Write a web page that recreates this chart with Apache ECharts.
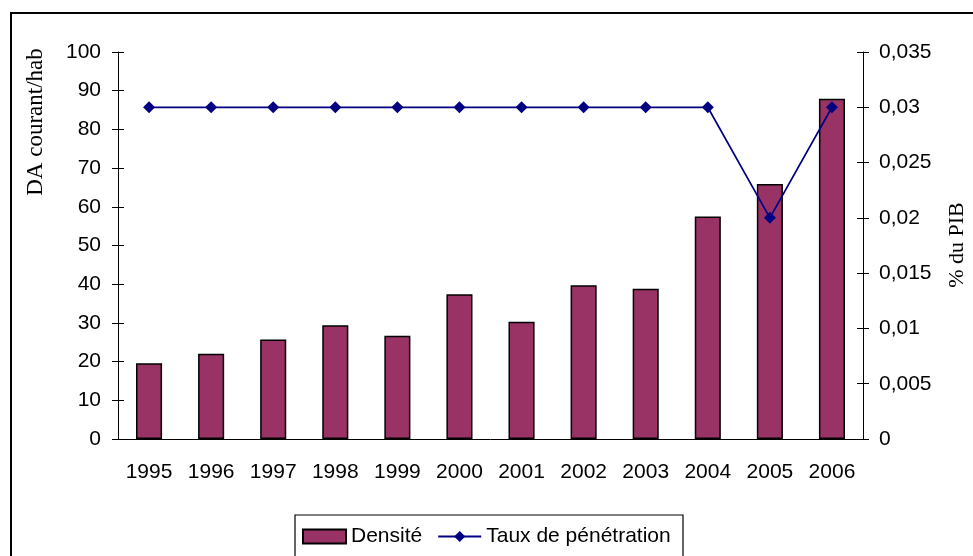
<!DOCTYPE html>
<html lang="fr">
<head>
    <meta charset="UTF-8">
    <title>Densité et taux de pénétration</title>
    <script src="https://cdn.jsdelivr.net/npm/echarts@6/dist/echarts.min.js"></script>
    <style>
        html, body { margin: 0; padding: 0; background: #fff; }
    </style>
</head>
<body>
<div id="main" style="width: 973px;height:556px;"></div>
<script>
    // données
    var annees = ['1995','1996','1997','1998','1999','2000','2001','2002','2003','2004','2005','2006'];
    var densite = [19.6, 22.0, 25.7, 29.4, 26.7, 37.4, 30.3, 39.7, 38.8, 57.5, 65.9, 87.9];
    var penetration = [0.03, 0.03, 0.03, 0.03, 0.03, 0.03, 0.03, 0.03, 0.03, 0.03, 0.02, 0.03];

    var police = 'Liberation Sans, Arial, sans-serif';
    var serif = 'Liberation Serif, Times New Roman, serif';

    function virgule(v) {
        return String(+v.toFixed(4)).replace('.', ',');
    }

    var myChart = echarts.init(document.getElementById('main'));
    myChart.setOption({
        animation: false,
        backgroundColor: '#fff',
        grid: { left: 118, right: 110, top: 52, bottom: 117 },
        legend: {
            left: 297,
            top: 518,
            padding: [8, 5, 8, 5],
            itemWidth: 43,
            itemHeight: 14,
            itemGap: 15,
            textStyle: { fontFamily: police, fontSize: 21, color: '#000' },
            data: [{ name: 'Densité', icon: 'rect' }, { name: 'Taux de pénétration' }]
        },
        xAxis: [{
            type: 'category',
            data: annees,
            axisLine: { lineStyle: { color: '#000', width: 1 } },
            axisTick: { length: 7, lineStyle: { color: '#000' } },
            axisLabel: { margin: 23, fontFamily: police, fontSize: 21, color: '#000' }
        }, {
            // traits intérieurs des graduations
            type: 'category',
            data: annees,
            position: 'bottom',
            axisLine: { show: false },
            axisTick: { inside: true, length: 6, lineStyle: { color: '#000' } },
            axisLabel: { show: false }
        }],
        yAxis: [{
            type: 'value', min: 0, max: 100, interval: 10,
            axisLine: { show: true, lineStyle: { color: '#000' } },
            axisTick: { show: true, length: 6, lineStyle: { color: '#000' } },
            axisLabel: { margin: 17, fontFamily: police, fontSize: 21, color: '#000' },
            splitLine: { show: false }
        }, {
            type: 'value', min: 0, max: 0.035, interval: 0.005, position: 'right',
            axisLine: { show: true, lineStyle: { color: '#000' } },
            axisTick: { show: true, length: 6, lineStyle: { color: '#000' } },
            axisLabel: { margin: 16, fontFamily: police, fontSize: 21, color: '#000', formatter: virgule },
            splitLine: { show: false }
        }, {
            type: 'value', min: 0, max: 100, interval: 10, position: 'left',
            axisLine: { show: false },
            axisTick: { show: true, inside: true, length: 6, lineStyle: { color: '#000' } },
            axisLabel: { show: false },
            splitLine: { show: false }
        }, {
            type: 'value', min: 0, max: 0.035, interval: 0.005, position: 'right',
            axisLine: { show: false },
            axisTick: { show: true, inside: true, length: 6, lineStyle: { color: '#000' } },
            axisLabel: { show: false },
            splitLine: { show: false }
        }],
        series: [{
            name: 'Densité',
            type: 'bar',
            yAxisIndex: 0,
            barWidth: '42%',
            itemStyle: { color: '#993366', borderColor: '#000', borderWidth: 1.5 },
            data: densite
        }, {
            name: 'Taux de pénétration',
            type: 'line',
            yAxisIndex: 1,
            symbol: 'diamond',
            symbolSize: 12,
            lineStyle: { color: '#000080', width: 1.7 },
            itemStyle: { color: '#000080' },
            data: penetration
        }],
        graphic: [{
            type: 'rect',
            shape: { x: 11, y: 13, width: 1000, height: 600 },
            style: { fill: 'none', stroke: '#000', lineWidth: 2 },
            silent: true
        }, {
            // cadre de la légende
            type: 'rect',
            shape: { x: 295, y: 515, width: 388, height: 60 },
            style: { fill: 'none', stroke: '#000', lineWidth: 1.2 },
            silent: true
        }, {
            type: 'text',
            x: 36, y: 122,
            rotation: Math.PI / 2,
            style: { text: 'DA courant/hab', font: '23px ' + serif, fill: '#000', align: 'center', verticalAlign: 'middle' }
        }, {
            type: 'text',
            x: 957, y: 245,
            rotation: Math.PI / 2,
            style: { text: '% du PIB', font: '22px ' + serif, fill: '#000', align: 'center', verticalAlign: 'middle' }
        }]
    });
</script>
</body>
</html>
